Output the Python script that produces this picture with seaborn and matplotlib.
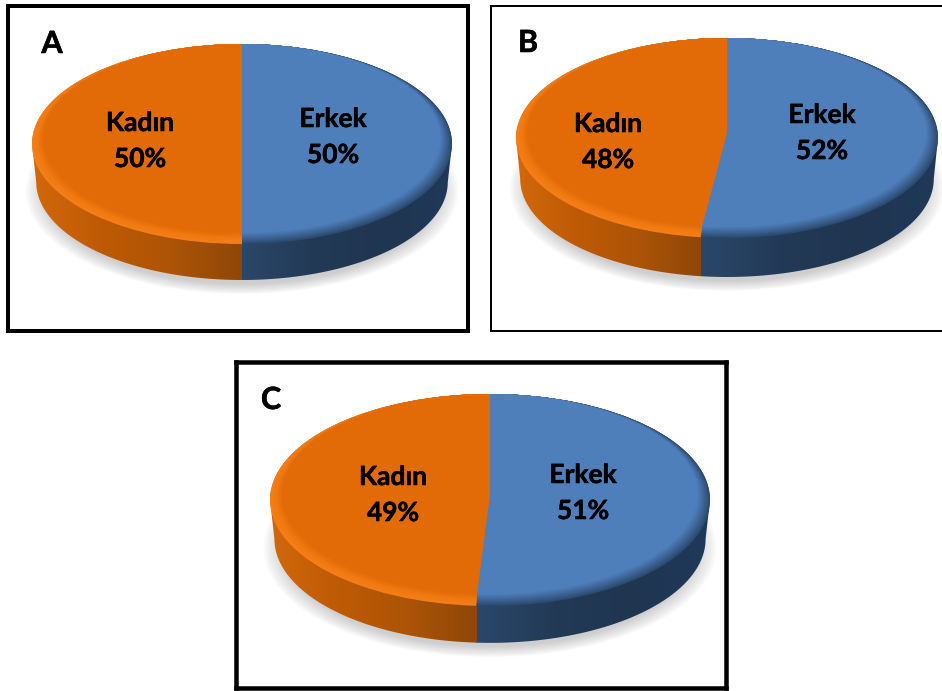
import numpy as np
import seaborn as sns
import matplotlib.pyplot as plt
import matplotlib.patheffects as pe
from matplotlib.patches import Ellipse, Polygon

W, H = 942, 691

panels = ['A', 'B', 'C']
categories = ['Erkek', 'Kadın']
erkek = [50, 52, 51]
kadin = [50, 48, 49]

#frame left, top, right, bottom in px, then frame line width in px
frames = [(8, 6, 468, 331, 4), (491, 6, 950, 331, 2), (235.5, 361.5, 725.5, 687.5, 4.5)]
#pie cx, cy, rx, ry, depth
pies = [(242, 144, 210, 100, 38), (727, 138, 211, 100, 41), (490, 500, 220, 106, 39)]
#text positions in px
letter_pos = [(52, 44), (528, 43), (271, 400)]
erkek_pos = [(333, 137), (822, 133), (583, 493)]
kadin_pos = [(140, 141), (608, 142), (393, 495)]

sns.set_theme(style='white')
plt.rcParams['font.family'] = ['Lato', 'DejaVu Sans']

blue_rim = sns.blend_palette(['#2C4A70', '#3F6699', '#4F7FBB'], 12)
orange_rim = sns.blend_palette(['#F47F18', '#F07810', '#E26B08'], 12)
blue_side = sns.blend_palette(['#2B4769', '#233A57', '#1F3550', '#20395A'], as_cmap=True)
orange_side = sns.blend_palette(['#D2680B', '#BE5A05', '#AC5407', '#8F4708'], as_cmap=True)

fig = plt.figure(figsize=(W / 100, H / 100), dpi=100)
grad = np.linspace(0, 1, 256).reshape(1, -1)
t = np.linspace(0, np.pi, 100)
bold = [pe.withStroke(linewidth=0.4, foreground='black')]

for i in range(3):
    left, top, right, bottom, lw = frames[i]
    cx, cy, rx, ry, depth = pies[i]
    ax = fig.add_axes([left / W, 1 - bottom / H, (right - left) / W, (bottom - top) / H])
    values = [erkek[i], kadin[i]]

    #soft shadow under the pie
    for s in np.linspace(1.03, 0.93, 12):
        ax.add_patch(Ellipse((0, -(depth + 9) / ry), 2 * s, 2 * s, color='#808080', alpha=0.035, lw=0, zorder=0))

    #side of the pie: silhouette polygon, split at the bottom end of the slice border
    d = depth / ry
    top_arc = np.column_stack([np.cos(t), np.sin(t)])
    low_arc = np.column_stack([-0.98 * np.cos(t), -d - 0.98 * np.sin(t)])
    outline = Polygon(np.vstack([top_arc, low_arc]), closed=True, fc='none', ec='none')
    ax.add_patch(outline)
    seam = np.sin(np.radians(360 * values[0] / sum(values) - 180))
    im = ax.imshow(grad, cmap=blue_side, extent=(-seam, 1.0, -2.2, 1.1), aspect='auto', zorder=1.5)
    im.set_clip_path(outline)
    im = ax.imshow(grad, cmap=orange_side, extent=(-1.0, -seam, -2.2, 1.1), aspect='auto', zorder=1.5)
    im.set_clip_path(outline)

    #top face, crescent rim fading into the flat colour
    for k, r in enumerate(np.linspace(1, 0.945, 12)):
        ax.pie(values, startangle=90, counterclock=False, radius=r, center=(0, 1 - r),
               colors=[blue_rim[k], orange_rim[k]], wedgeprops={'zorder': 2 + k * 0.01, 'lw': 0})

    ax.set_aspect('auto')
    ax.set_xlim((left - cx) / rx, (right - cx) / rx)
    ax.set_ylim((cy - bottom) / ry, (cy - top) / ry)
    ax.set_xticks([])
    ax.set_yticks([])
    ax.set_frame_on(True)
    for sp in ax.spines.values():
        sp.set_linewidth(lw * 0.72)
        sp.set_color('black')

    x, y = erkek_pos[i]
    ax.text((x - cx) / rx, (cy - y) / ry, f'{categories[0]}\n{erkek[i]}%', ha='center', va='center',
            fontsize=19, fontweight='bold', color='black', linespacing=1.6, zorder=5, path_effects=bold)
    x, y = kadin_pos[i]
    ax.text((x - cx) / rx, (cy - y) / ry, f'{categories[1]}\n{kadin[i]}%', ha='center', va='center',
            fontsize=19, fontweight='bold', color='black', linespacing=1.6, zorder=5, path_effects=bold)
    x, y = letter_pos[i]
    ax.text((x - cx) / rx, (cy - y) / ry, panels[i], ha='center', va='center',
            fontsize=22, fontweight='bold', color='black', zorder=5, path_effects=bold)

fig.savefig('out.png', dpi=100)
